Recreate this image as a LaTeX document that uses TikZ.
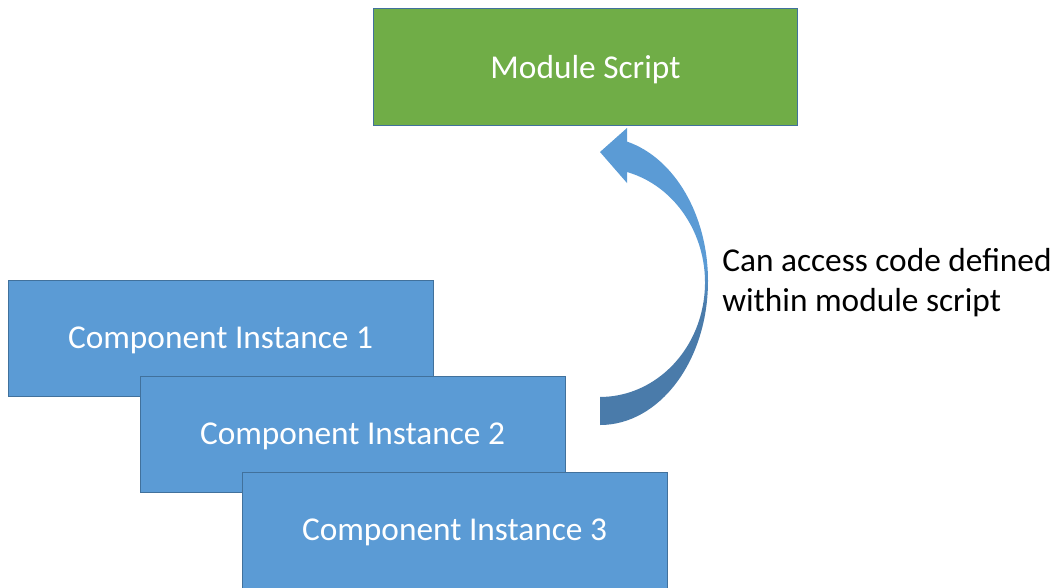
\documentclass[tikz,border=0pt]{standalone}
\usepackage{fontspec}
\setmainfont{Carlito}
\definecolor{boxblue}{HTML}{5B9BD5}
\definecolor{boxedge}{HTML}{41719C}
\definecolor{modgreen}{HTML}{70AD47}
\definecolor{arrlight}{HTML}{5B9BD5}
\definecolor{arrdark}{HTML}{4A7BAA}
\pgfdeclareverticalshading{arrowshade}{100bp}{color(0bp)=(arrdark); color(45bp)=(arrdark); color(52bp)=(arrlight); color(100bp)=(arrlight)}
\tikzset{
  card/.style={draw=boxedge, line width=0.75pt, fill=boxblue, text=white,
    minimum width=318.75pt, minimum height=87pt, inner sep=0pt, text depth=0pt,
    font=\fontsize{25}{30}\selectfont},
  modbox/.style={card, fill=modgreen, minimum width=318pt, minimum height=87.75pt},
  note/.style={align=left, anchor=west, inner sep=0pt, text=black,
    font=\fontsize{25}{30}\selectfont},
  curvedarrow/.style={shading=arrowshade, draw=none}
}
\begin{document}
\begin{tikzpicture}[x=0.75pt, y=-0.75pt]
\useasboundingbox (0,0) rectangle (1061,587);
\node[modbox] (mod) at (585.5,67) {Module Script};
\node[card] (ci1) at (220.5,338) {Component Instance 1};
\node[card] (ci2) at (352.5,434) {Component Instance 2};
\node[card] (ci3) at (454.5,530) {Component Instance 3};
\coordinate (tail) at (600,425);
\path[curvedarrow] (tail)
  arc[start angle=90, end angle=-75.5, x radius=108, y radius=144]
  -- (627,128) -- (600,152) -- (627,183) -- (627,172)
  arc[start angle=-75.1, end angle=90, x radius=105, y radius=114.4]
  -- cycle;
\node[note] (txt) at (722,283) {Can access code defined\\within module script};
\end{tikzpicture}
\end{document}
